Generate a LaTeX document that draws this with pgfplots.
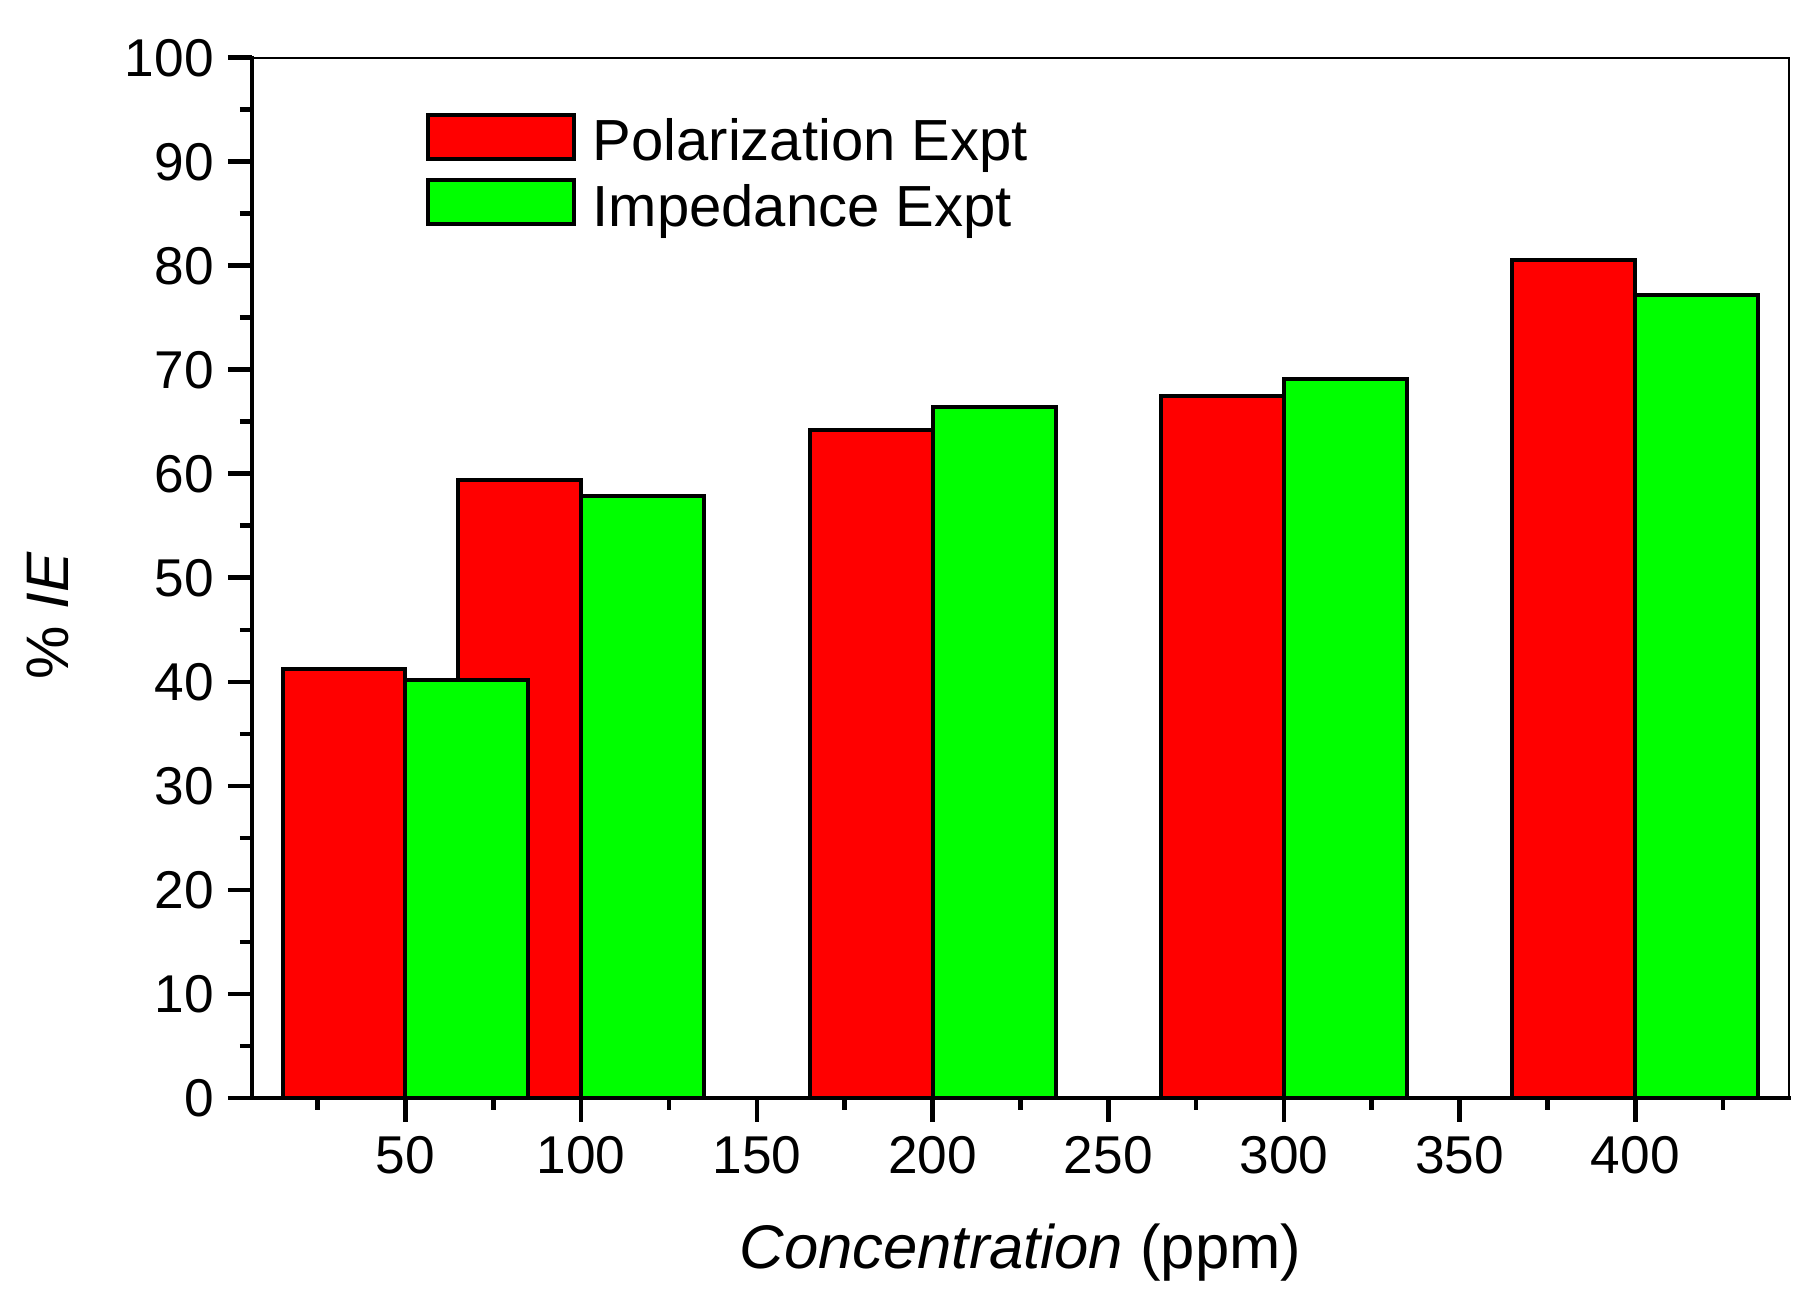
\documentclass[border=0pt]{standalone}
\usepackage{fontspec}
\setmainfont{Liberation Sans}
\usepackage{pgfplots}
\pgfplotsset{compat=1.18}
\definecolor{myred}{RGB}{255,0,0}
\definecolor{mygreen}{RGB}{0,255,0}
\begin{document}
\begin{tikzpicture}
\begin{axis}[
  scale only axis, width=384.25pt, height=260pt,
  xmin=6.25, xmax=443.75, ymin=0, ymax=100,
  xtick={50,100,...,400}, ytick={0,10,...,100},
  minor xtick={25,75,...,425}, minor ytick={5,15,...,95},
  tick align=outside, xtick pos=bottom, ytick pos=left,
  major tick length=6pt, minor tick length=3pt,
  every tick/.style={black, line width=1.15pt},
  axis line style={line width=0.5pt},
  /pgf/number format/assume math mode=true,
  ticklabel style={font=\fontsize{13.3}{16}\selectfont},
  xlabel={\textit{Concentration} (ppm)},
  ylabel={\% \textit{IE}},
  label style={font=\fontsize{15}{18}\selectfont},
  xlabel style={at={(axis description cs:0.5,-0.1644)}, anchor=base, font=\fontsize{15.4}{18}\selectfont},
  ylabel style={at={(axis description cs:-0.1325,0.4635)}, anchor=center},
  legend style={at={(axis description cs:0.113,0.948)}, anchor=north west,
    draw=none, fill=none, inner sep=0pt, row sep=2.5pt,
    font=\fontsize{14.5}{17}\selectfont, nodes={inner sep=0.5pt},
    /tikz/every odd column/.append style={column sep=3.6pt}},
  legend cell align=left,
  after end axis/.code={\draw[line width=1pt, line cap=rect] (rel axis cs:0,1) -- (rel axis cs:0,0) -- (rel axis cs:1,0);},
]
\addplot[ybar, bar width=35, bar shift=-17.5, fill=myred, draw=black, line width=1pt,
  legend image code/.code={\draw[fill=myred, draw=black, line width=1pt] (0pt,-4.05pt) rectangle (36.5pt,6.95pt);}]
  coordinates {(50,41.2) (100,59.4) (200,64.2) (300,67.5) (400,80.6)};
\addlegendentry{Polarization Expt}
\addplot[ybar, bar width=35, bar shift=17.5, fill=mygreen, draw=black, line width=1pt,
  legend image code/.code={\draw[fill=mygreen, draw=black, line width=1pt] (0pt,-4.05pt) rectangle (36.5pt,6.95pt);}]
  coordinates {(50,40.2) (100,57.9) (200,66.4) (300,69.1) (400,77.2)};
\addlegendentry{Impedance Expt}
\end{axis}
\pgfresetboundingbox
\path (-62.93pt,-48.75pt) rectangle (389.25pt,274.43pt);
\end{tikzpicture}
\end{document}
